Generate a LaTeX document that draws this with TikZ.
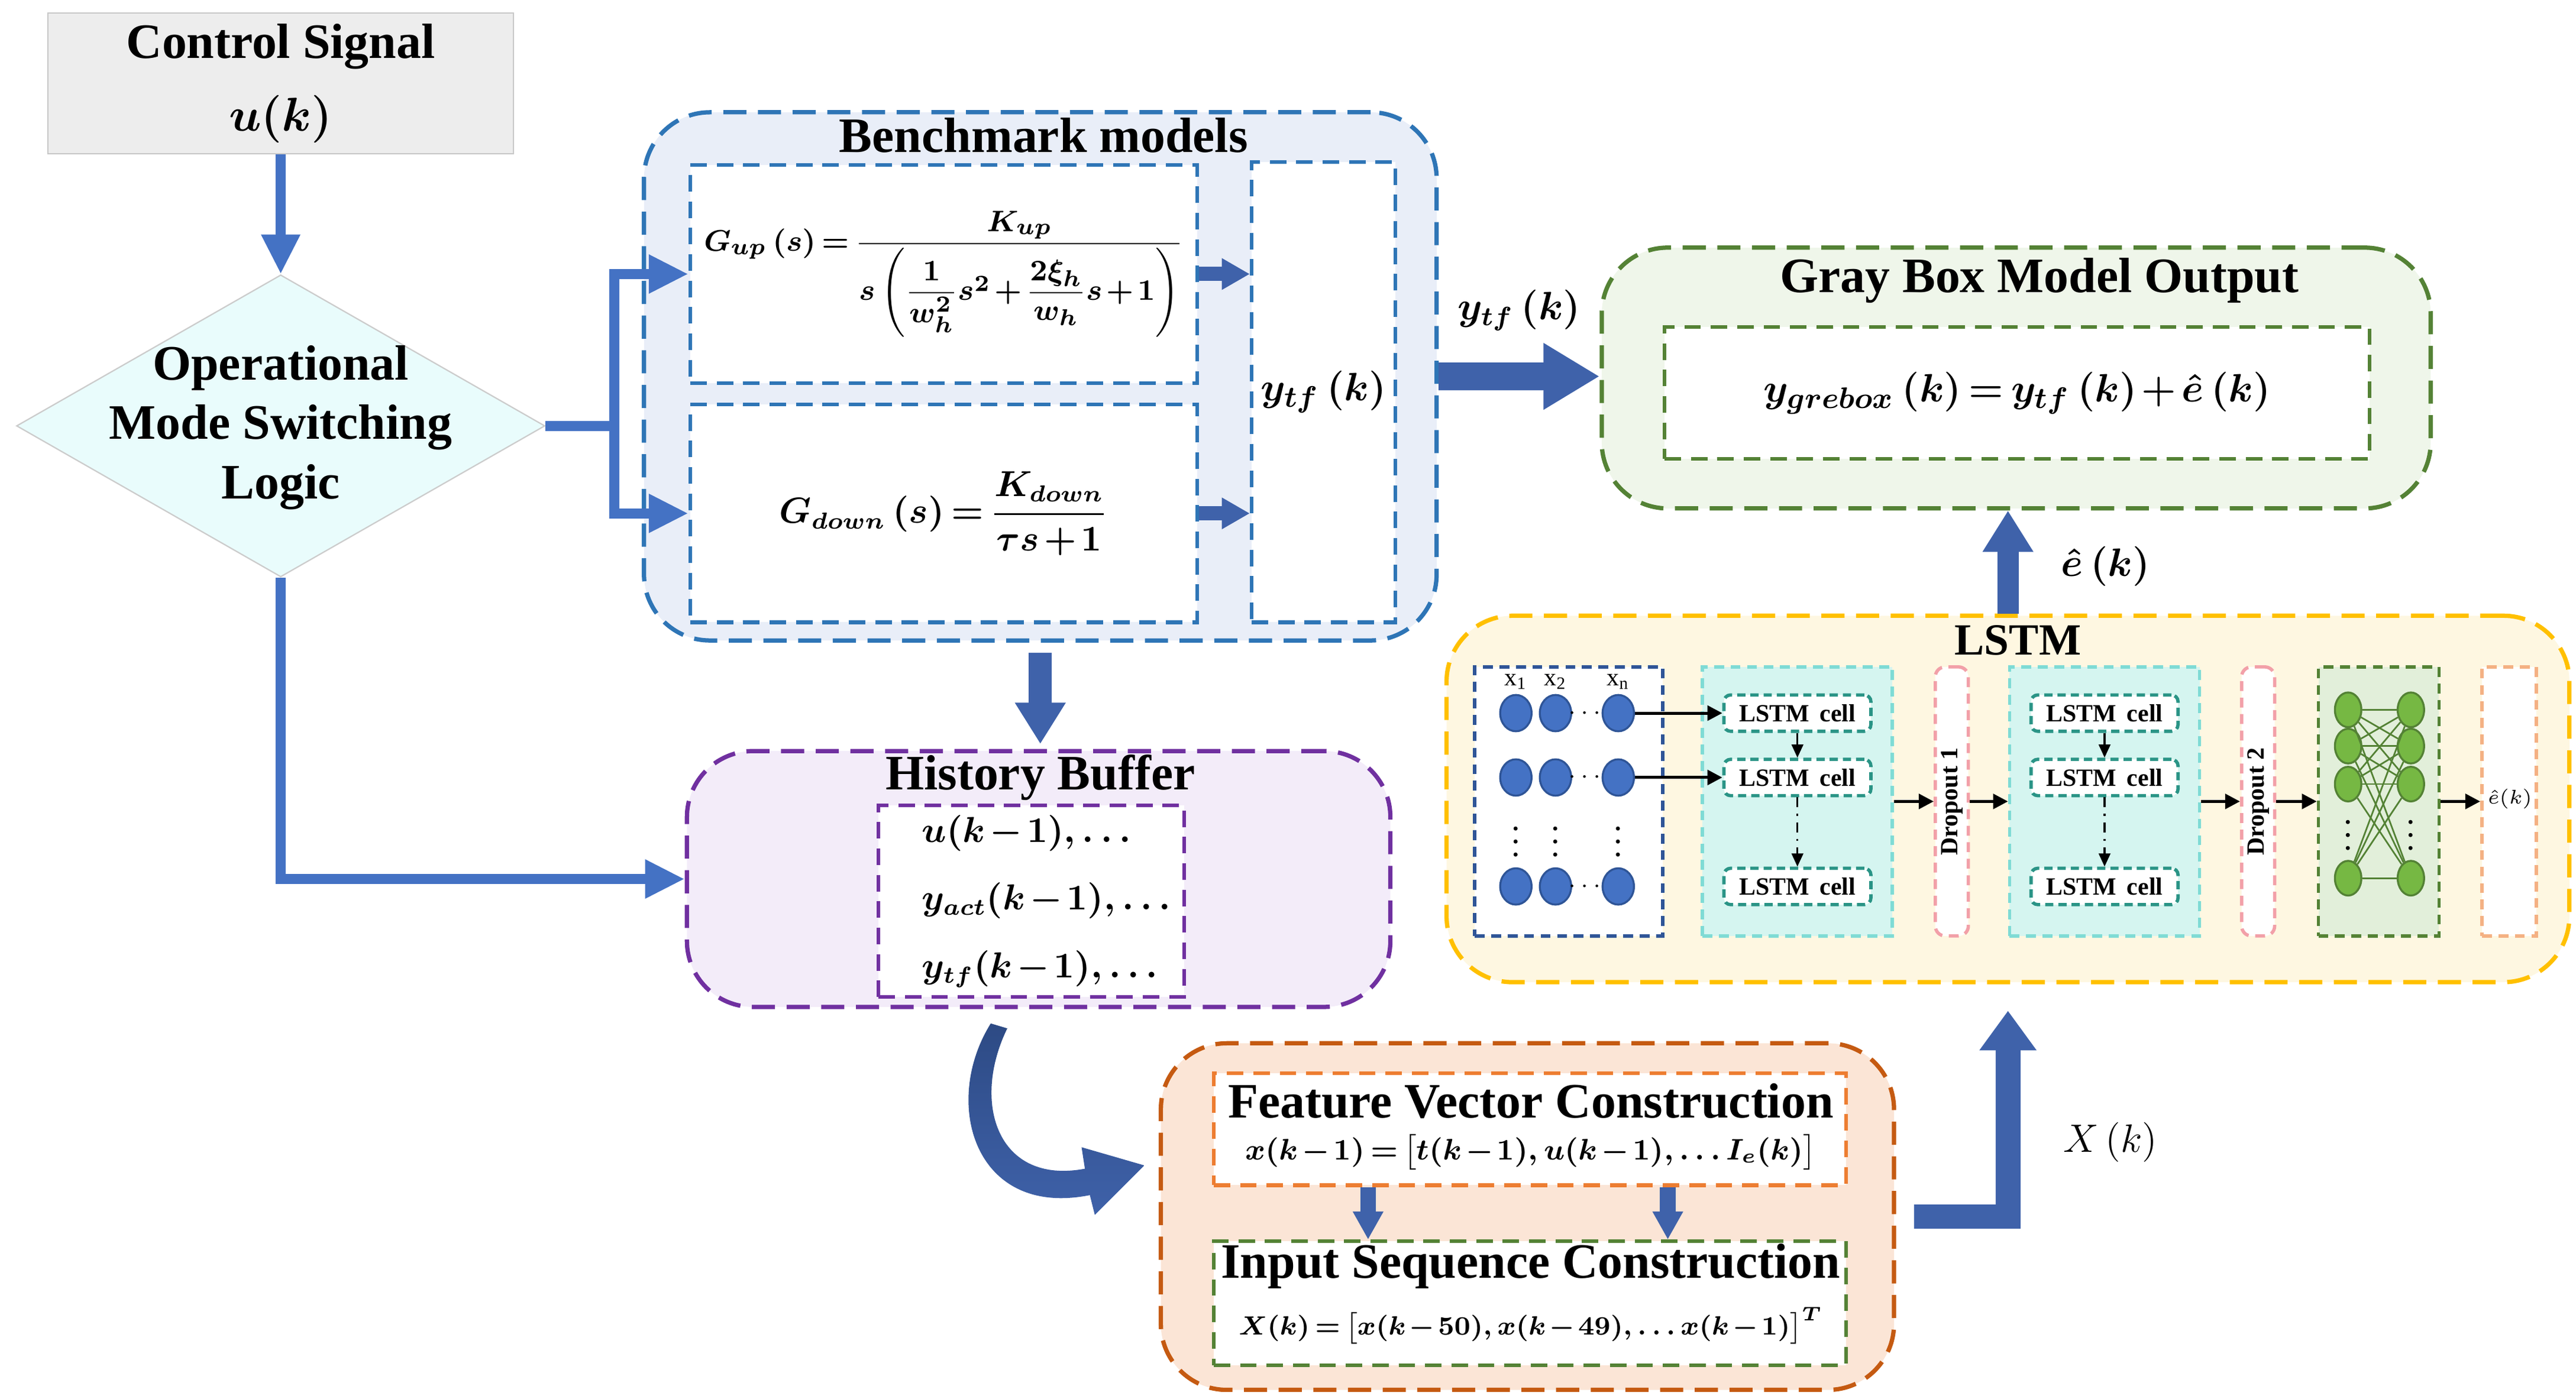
\documentclass[tikz,border=0pt]{standalone}
\usepackage{amsmath}
\usepackage{fontspec}
\setmainfont{Liberation Serif}
\usetikzlibrary{arrows.meta,shapes.geometric,positioning}

% colours
\definecolor{ctrlgray}{HTML}{EDEDED}
\definecolor{modecyan}{HTML}{E9FCFC}
\definecolor{flowblue}{HTML}{4472C4}
\definecolor{blockblue}{HTML}{3F62AA}
\definecolor{blockedge}{HTML}{2D4A84}
\definecolor{benchblue}{HTML}{2E75B6}
\definecolor{benchfill}{HTML}{E9EEF8}
\definecolor{boxgreen}{HTML}{548235}
\definecolor{grayfill}{HTML}{EFF6EA}
\definecolor{lstmgold}{HTML}{FFC000}
\definecolor{lstmfill}{HTML}{FEF7E1}
\definecolor{histpurple}{HTML}{7030A0}
\definecolor{histfill}{HTML}{F3ECF9}
\definecolor{featbrown}{HTML}{C55A11}
\definecolor{featorange}{HTML}{ED7D31}
\definecolor{featfill}{HTML}{FBE5D6}
\definecolor{inblue}{HTML}{2F5597}
\definecolor{cellteal}{HTML}{2A9486}
\definecolor{layteal}{HTML}{7FDBD5}
\definecolor{layfill}{HTML}{D5F5F0}
\definecolor{droppink}{HTML}{F2A0A8}
\definecolor{densefill}{HTML}{E2EFDA}
\definecolor{neurongreen}{HTML}{76B843}
\definecolor{outorange}{HTML}{F4B183}

% tighter spacing in the formulas
\newcommand\tightmath{\medmuskip=2mu\thickmuskip=3mu\relax}
\newcommand\mathsize[1]{\fontsize{#1}{#1}\selectfont\bfseries\boldmath\tightmath}

\begin{document}
\begin{tikzpicture}[x=0.5pt,y=-0.5pt,
    group box/.style={draw,rounded corners=20pt,line width=1.3pt,dash pattern=on 7pt off 3.5pt},
    inner box/.style={draw,fill=white,line width=1.1pt,dash pattern=on 5pt off 3pt,inner sep=1pt},
    layer box/.style={draw,line width=1pt,dash pattern=on 3pt off 2pt,inner sep=0pt,minimum height=81.5pt},
    title text/.style={font=\fontsize{15}{18}\selectfont\bfseries,inner sep=0pt},
    math text/.style={font=\mathsize{10.5},inner sep=0pt},
    flow line/.style={flowblue,line width=3pt},
    flow arrow/.style={flow line,-{Triangle[width=11pt,length=12pt]}},
    block arrow/.style={blockblue},
    lstm arrow/.style={line width=0.9pt,-{Triangle[width=4.5pt,length=4.5pt]}},
    cell arrow/.style={line width=0.6pt,-{Triangle[width=3.5pt,length=4pt]}},
    in neuron/.style={ellipse,draw=inblue,fill=flowblue,line width=0.6pt,minimum width=9.5pt,minimum height=11pt,inner sep=0pt},
    dense neuron/.style={ellipse,draw=boxgreen,fill=neurongreen,line width=0.6pt,minimum width=8pt,minimum height=10.5pt,inner sep=0pt},
    cell box/.style={draw=cellteal,fill=white,rounded corners=2pt,line width=1pt,dash pattern=on 2.5pt off 1.5pt,minimum width=44.5pt,minimum height=11pt,inner sep=0pt,font=\fontsize{7.5}{9}\selectfont\bfseries},
    tiny text/.style={font=\fontsize{7.5}{9}\selectfont\bfseries,inner sep=0pt}]

  \useasboundingbox (0,0) rectangle (1560,847.5);

  % control signal and switching logic
  \node[draw=black!22,fill=ctrlgray,minimum width=141pt,minimum height=41.5pt,align=center,
        font=\fontsize{15}{22}\selectfont\bfseries\boldmath] (ctrl) at (170,50.5) {Control Signal\\{\fontsize{13.5}{22}\selectfont$u(k)$}};
  \node[diamond,draw=black!20,fill=modecyan,minimum width=160pt,minimum height=91.5pt,inner sep=0pt] (mode) at (170,258) {};
  \node[title text,align=center] (modetext) at (170,259) {Operational\\Mode Switching\\Logic};

  % benchmark models
  \node[group box,draw=benchblue,fill=benchfill,minimum width=240pt,minimum height=160pt] (bench) at (630,228) {};
  \node[title text] (benchtitle) at (632,82) {Benchmark models};
  \node[inner box,draw=benchblue,minimum width=153.5pt,minimum height=66pt,math text,font=\mathsize{9.5},inner sep=0pt] (gup) at (571.5,166)
    {$\displaystyle G_{up}\left(s\right)=\frac{K_{up}}{s\left(\dfrac{1}{w_h^{2}}s^{2}+\dfrac{2\xi_h}{w_h}s+1\right)}$};
  \node[inner box,draw=benchblue,minimum width=153.5pt,minimum height=66pt,math text] (gdown) at (571.5,311)
    {$\displaystyle G_{down}\left(s\right)=\frac{K_{down}}{\tau s+1}$};
  \node[inner box,draw=benchblue,minimum width=43.5pt,minimum height=139.5pt,math text,font=\mathsize{12.5}] (ytf) at (801.5,237.5)
    {$y_{tf}\left(k\right)$};

  % gray box output
  \node[group box,draw=boxgreen,fill=grayfill,minimum width=251pt,minimum height=79pt] (gray) at (1221,229) {};
  \node[title text] (graytitle) at (1235,170) {Gray Box Model Output};
  \node[inner box,draw=boxgreen,minimum width=213.5pt,minimum height=40pt,math text,font=\mathsize{12.5}] (grayin) at (1221.5,238)
    {$y_{grebox}\left(k\right)=y_{tf}\left(k\right)+\hat{e}\left(k\right)$};

  % history buffer
  \node[group box,draw=histpurple,fill=histfill,minimum width=213pt,minimum height=77.5pt] (hist) at (629,532.5) {};
  \node[title text] (histtitle) at (630,471) {History Buffer};
  \node[inner box,draw=histpurple,minimum width=92.5pt,minimum height=58pt] (histin) at (624.5,546) {};
  \node[math text,align=left,anchor=west,font=\fontsize{10.5}{20.5}\selectfont\bfseries\boldmath\tightmath] (histlines) at (558,546)
    {$u(k-1),\ldots$\\$y_{act}(k-1),\ldots$\\$y_{tf}(k-1),\ldots$};

  % feature vector and input sequence
  \node[group box,draw=featbrown,fill=featfill,minimum width=222pt,minimum height=105pt] (featgroup) at (925,737) {};
  \node[inner box,draw=featorange,minimum width=191.5pt,minimum height=34pt] (feat) at (926.5,684) {};
  \node[title text] (feattitle) at (927,667) {Feature Vector Construction};
  \node[math text,font=\mathsize{9}] (featformula) at (927,698)
    {$x(k-1)=\bigl[t(k-1),u(k-1),\ldots I_e(k)\bigr]$};
  \node[inner box,draw=boxgreen,minimum width=191.5pt,minimum height=37.5pt] (seq) at (926.5,789.5) {};
  \node[title text] (seqtitle) at (927,767) {Input Sequence Construction};
  \node[math text,font=\mathsize{8.5}] (seqformula) at (927,803)
    {$X(k)=\bigl[x(k-50),x(k-49),\ldots x(k-1)\bigr]^{T}$};

  % LSTM network
  \node[group box,draw=lstmgold,fill=lstmfill,minimum width=340pt,minimum height=111pt] (lstm) at (1216,484) {};
  \node[font=\fontsize{13.5}{16}\selectfont\bfseries,inner sep=0pt] (lstmtitle) at (1222,388) {LSTM};
  \node[layer box,draw=inblue,fill=white,minimum width=57pt] (inlayer) at (950,485.5) {};
  \foreach \r/\y in {1/432,2/471,3/537}{
    \foreach \c/\x in {1/918,2/942,3/980}
      \node[in neuron] (in\r\c) at (\x,\y) {};
    \node[tiny text] (indots\r) at (961,\y) {$\cdots$};
  }
  \foreach \c/\x/\s in {1/918/1,2/942/2,3/980/n}{
    \node[tiny text] (inlabel\c) at (\x,413) {$\mathrm{x}_{\mathrm{\s}}$};
    \node[tiny text] (invdots\c) at (\x,504) {$\vdots$};
  }
  \foreach \l/\x in {1/1088.5,2/1274.5}{
    \node[layer box,draw=layteal,fill=layfill,minimum width=57.5pt] (lay\l) at (\x,485.5) {};
    \foreach \r/\y in {1/432,2/471,3/537}
      \node[cell box] (cell\l\r) at (\x,\y) {LSTM\, cell};
    \draw[cell arrow] (cell\l1) -- (cell\l2);
    \draw[cell arrow,dash dot] (cell\l2) -- (cell\l3);
  }
  \foreach \d/\x in {1/1182,2/1367.5}{
    \node[layer box,draw=droppink,fill=white,rounded corners=3pt,minimum width=10pt] (drop\d) at (\x,485.5) {};
    \node[tiny text,rotate=90] (droptext\d) at (drop\d) {Dropout \d};
  }
  \node[layer box,draw=boxgreen,fill=densefill,minimum width=36.5pt] (dense) at (1440.5,485.5) {};
  \foreach \r/\y in {1/430,2/452,3/475,4/532}{
    \node[dense neuron] (dl\r) at (1422,\y) {};
    \node[dense neuron] (dr\r) at (1460,\y) {};
  }
  \foreach \i in {1,...,4}
    \foreach \j in {1,...,4}
      \draw[boxgreen,line width=0.5pt] (dl\i) -- (dr\j);
  \node[tiny text] (dlvdots) at (1422,500) {$\vdots$};
  \node[tiny text] (drvdots) at (1460,500) {$\vdots$};
  \node[layer box,draw=outorange,fill=white,minimum width=16.5pt] (outlayer) at (1519.5,485.5) {};
  \node[font=\fontsize{6.5}{8}\selectfont,inner sep=0pt] (outtext) at (1520,484) {$\hat{e}(k)$};

  \draw[lstm arrow] (in13) -- (cell11);
  \draw[lstm arrow] (in23) -- (cell12);
  \foreach \a/\b in {lay1/drop1,drop1/lay2,lay2/drop2,drop2/dense,dense/outlayer}
    \draw[lstm arrow] (\a) -- (\b);

  % flow connectors
  \coordinate (fork) at (372,258);
  \draw[flow arrow] (ctrl.south) -- (mode.north);
  \draw[flow line] (mode.east) -- (fork);
  \draw[flow arrow] (fork) |- (gup.west);
  \draw[flow arrow] (fork) |- (gdown.west);
  \draw[flow arrow] (mode.south) |- (hist.west);

  \draw[block arrow,line width=4.3pt,-{Triangle[width=9pt,length=8.5pt]}] (gup.east) -- (gup.east -| ytf.west);
  \draw[block arrow,line width=4.3pt,-{Triangle[width=9pt,length=8.5pt]}] (gdown.east) -- (gdown.east -| ytf.west);
  \draw[block arrow,line width=8.5pt,-{Triangle[width=19pt,length=17pt]}] (bench.east) -- (bench.east -| gray.west);
  \node[math text,font=\mathsize{11.5}] (ytflabel) at (920,188) {$y_{tf}\left(k\right)$};
  \draw[block arrow,line width=7pt,-{Triangle[width=14.5pt,length=12.5pt]},shorten <=3pt,shorten >=1.5pt] (bench.south) -- (bench.south |- hist.north);
  \draw[block arrow,line width=6.5pt,-{Triangle[width=14.5pt,length=12.5pt]}] (lstm.north) -- (lstm.north |- gray.south);
  \node[math text,font=\mathsize{12}] (ehatlabel) at (1275,343) {$\hat{e}\left(k\right)$};
  \draw[block arrow,line width=4.8pt,-{Triangle[width=8.7pt,length=8.5pt]}] ([xshift=-49pt]feat.south) -- ([xshift=-49pt]seq.north);
  \draw[block arrow,line width=4.8pt,-{Triangle[width=8.7pt,length=8.5pt]}] ([xshift=41.75pt]feat.south) -- ([xshift=41.75pt]seq.north);
  \draw[block arrow,line width=7.5pt,-{Triangle[width=16.5pt,length=12pt]},shorten >=8pt] ([xshift=5.5pt]featgroup.east) -| (lstm.south);
  \node[font=\fontsize{12.5}{15}\selectfont,inner sep=0pt] (xlabel) at (1278,692) {$X\left(k\right)$};

  % curved arrow from history buffer to feature construction
  \shade[top color=blockedge,bottom color=blockblue] (600,620) .. controls (570,668) and (590,738) .. (660,724)
    -- (663,736) -- (693,706) -- (655,695) -- (657,708) .. controls (604,718) and (588,668) .. (610,623) -- cycle;
\end{tikzpicture}
\end{document}
